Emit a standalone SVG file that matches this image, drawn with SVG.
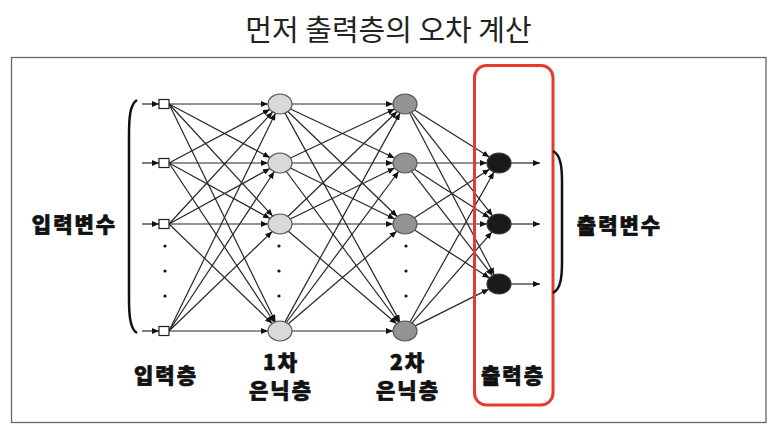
<svg xmlns="http://www.w3.org/2000/svg" width="776" height="435" viewBox="0 0 776 435">
<style>
.title{font-family:"Noto Sans CJK KR","Noto Sans",sans-serif;font-size:29px;fill:#222}
.lbl{font-family:"Noto Sans CJK KR","Noto Sans",sans-serif;font-size:21px;font-weight:900;fill:#111;stroke:#111;stroke-width:0.7;letter-spacing:2px}
.c{stroke:#262626;stroke-width:1.2;fill:none;marker-end:url(#ah)}
.inp{fill:#fff;stroke:#222;stroke-width:1.2}
.h1{fill:#d9d9d9;stroke:#555;stroke-width:1.2}
.h2{fill:#939393;stroke:#555;stroke-width:1.2}
.out{fill:#1a1a1a;stroke:#333;stroke-width:1.2}
.dot{fill:#111}
.br{fill:none;stroke:#111;stroke-width:2.5}
</style>
<defs>
<marker id="ah" viewBox="0 0 7 6" refX="7" refY="3" markerWidth="7" markerHeight="6" orient="auto" markerUnits="userSpaceOnUse">
<path d="M0,0 L7,3 L0,6 z" fill="#111"/>
</marker>
</defs>
<rect width="776" height="435" fill="#fff"/>
<text class="title" x="388.5" y="41" text-anchor="middle">먼저 출력층의 오차 계산</text>
<rect x="11.5" y="57.5" width="754.5" height="365" fill="none" stroke="#666" stroke-width="1.3"/>

<g id="connectors">
<!-- input arrows -->
<line class="c" x1="142" y1="104" x2="159" y2="104"/>
<line class="c" x1="142" y1="163" x2="159" y2="163"/>
<line class="c" x1="142" y1="224" x2="159" y2="224"/>
<line class="c" x1="142" y1="331" x2="159" y2="331"/>
<!-- input -> hidden1 -->
<line class="c" x1="169" y1="104" x2="268" y2="104"/>
<line class="c" x1="169" y1="104" x2="269.88" y2="157.62"/>
<line class="c" x1="169" y1="104" x2="272.67" y2="216.08"/>
<line class="c" x1="169" y1="104" x2="275.47" y2="321.74"/>
<line class="c" x1="169" y1="163" x2="269.88" y2="109.38"/>
<line class="c" x1="169" y1="163" x2="268" y2="163"/>
<line class="c" x1="169" y1="163" x2="269.98" y2="218.49"/>
<line class="c" x1="169" y1="163" x2="274.21" y2="322.24"/>
<line class="c" x1="169" y1="224" x2="272.67" y2="111.92"/>
<line class="c" x1="169" y1="224" x2="269.98" y2="168.51"/>
<line class="c" x1="169" y1="224" x2="268" y2="224"/>
<line class="c" x1="169" y1="224" x2="272.15" y2="323.44"/>
<line class="c" x1="169" y1="331" x2="275.47" y2="113.26"/>
<line class="c" x1="169" y1="331" x2="274.21" y2="171.76"/>
<line class="c" x1="169" y1="331" x2="272.15" y2="231.56"/>
<line class="c" x1="169" y1="331" x2="268" y2="331"/>
<!-- hidden1 -> hidden2 -->
<line class="c" x1="292" y1="104" x2="393" y2="104"/>
<line class="c" x1="290.44" y1="108.93" x2="394.56" y2="158.07"/>
<line class="c" x1="287.87" y1="111.55" x2="397.13" y2="216.45"/>
<line class="c" x1="285" y1="113.09" x2="400" y2="321.91"/>
<line class="c" x1="290.44" y1="158.07" x2="394.56" y2="108.93"/>
<line class="c" x1="292" y1="163" x2="393" y2="163"/>
<line class="c" x1="290.36" y1="168.05" x2="394.64" y2="218.95"/>
<line class="c" x1="286.32" y1="171.5" x2="398.68" y2="322.5"/>
<line class="c" x1="287.87" y1="216.45" x2="397.13" y2="111.55"/>
<line class="c" x1="290.36" y1="218.95" x2="394.64" y2="168.05"/>
<line class="c" x1="292" y1="224" x2="393" y2="224"/>
<line class="c" x1="288.37" y1="231.17" x2="396.63" y2="323.83"/>
<line class="c" x1="285" y1="321.91" x2="400" y2="113.09"/>
<line class="c" x1="286.32" y1="322.5" x2="398.68" y2="171.5"/>
<line class="c" x1="288.37" y1="323.83" x2="396.63" y2="231.17"/>
<line class="c" x1="292" y1="331" x2="393" y2="331"/>
<!-- hidden2 -> output -->
<line class="c" x1="414.59" y1="110.02" x2="489.41" y2="156.98"/>
<line class="c" x1="411.56" y1="112.37" x2="492.44" y2="215.63"/>
<line class="c" x1="409.79" y1="113.17" x2="494.21" y2="274.83"/>
<line class="c" x1="417" y1="163" x2="487" y2="163"/>
<line class="c" x1="414.47" y1="169.14" x2="489.53" y2="217.86"/>
<line class="c" x1="411.52" y1="171.39" x2="492.48" y2="275.61"/>
<line class="c" x1="414.47" y1="217.86" x2="489.53" y2="169.14"/>
<line class="c" x1="417" y1="224" x2="487" y2="224"/>
<line class="c" x1="414.53" y1="230.08" x2="489.47" y2="277.92"/>
<line class="c" x1="410.07" y1="321.94" x2="493.93" y2="172.06"/>
<line class="c" x1="412.09" y1="322.93" x2="491.91" y2="232.07"/>
<line class="c" x1="415.29" y1="325.85" x2="488.71" y2="289.15"/>
<!-- output arrows -->
<line class="c" x1="511" y1="163" x2="540" y2="163"/>
<line class="c" x1="511" y1="224" x2="540" y2="224"/>
<line class="c" x1="511" y1="284" x2="540" y2="284"/>
</g>

<g id="input-layer">
<rect class="inp" x="159" y="99.5" width="10" height="9"/>
<rect class="inp" x="159" y="158.5" width="10" height="9"/>
<rect class="inp" x="159" y="219.5" width="10" height="9"/>
<rect class="inp" x="159" y="326.5" width="10" height="9"/>
<circle class="dot" cx="165" cy="246" r="1.6"/>
<circle class="dot" cx="165" cy="271" r="1.6"/>
<circle class="dot" cx="165" cy="296" r="1.6"/>
</g>

<g id="hidden-layer-1">
<ellipse class="h1" cx="280" cy="104" rx="12" ry="10"/>
<ellipse class="h1" cx="280" cy="163" rx="12" ry="10"/>
<ellipse class="h1" cx="280" cy="224" rx="12" ry="10"/>
<ellipse class="h1" cx="280" cy="331" rx="12" ry="10"/>
<circle class="dot" cx="279" cy="246" r="1.6"/>
<circle class="dot" cx="279" cy="271" r="1.6"/>
<circle class="dot" cx="279" cy="296" r="1.6"/>
</g>

<g id="hidden-layer-2">
<ellipse class="h2" cx="405" cy="104" rx="12" ry="10"/>
<ellipse class="h2" cx="405" cy="163" rx="12" ry="10"/>
<ellipse class="h2" cx="405" cy="224" rx="12" ry="10"/>
<ellipse class="h2" cx="405" cy="331" rx="12" ry="10"/>
<circle class="dot" cx="406" cy="246" r="1.6"/>
<circle class="dot" cx="406" cy="271" r="1.6"/>
<circle class="dot" cx="406" cy="296" r="1.6"/>
</g>

<g id="output-layer">
<ellipse class="out" cx="499" cy="163" rx="12" ry="10"/>
<ellipse class="out" cx="499" cy="224" rx="12" ry="10"/>
<ellipse class="out" cx="499" cy="284" rx="12" ry="10"/>
</g>

<g id="highlight">
<rect x="474.5" y="65.5" width="78.5" height="339.5" rx="12" ry="12" fill="none" stroke="#e53a2d" stroke-width="3"/>
</g>

<g id="input-variables">
<path class="br" d="M137,100 C130,104 129,118 129,135 L129,298 C129,315 130,329 137,333"/>
<text class="lbl" x="74.5" y="232" text-anchor="middle">입력변수</text>
</g>

<g id="output-variables">
<path class="br" d="M553,151 C561,155 562,168 562,182 L562,262 C562,276 561,289 553,293"/>
<text class="lbl" x="619.5" y="233" text-anchor="middle">출력변수</text>
</g>

<g id="labels">
<text class="lbl" x="166" y="383" text-anchor="middle">입력층</text>
<text class="lbl" x="281" y="370" text-anchor="middle">1차</text>
<text class="lbl" x="281" y="398" text-anchor="middle">은닉층</text>
<text class="lbl" x="408" y="370" text-anchor="middle">2차</text>
<text class="lbl" x="408" y="398" text-anchor="middle">은닉층</text>
<text class="lbl" x="513" y="383" text-anchor="middle">출력층</text>
</g>
</svg>
